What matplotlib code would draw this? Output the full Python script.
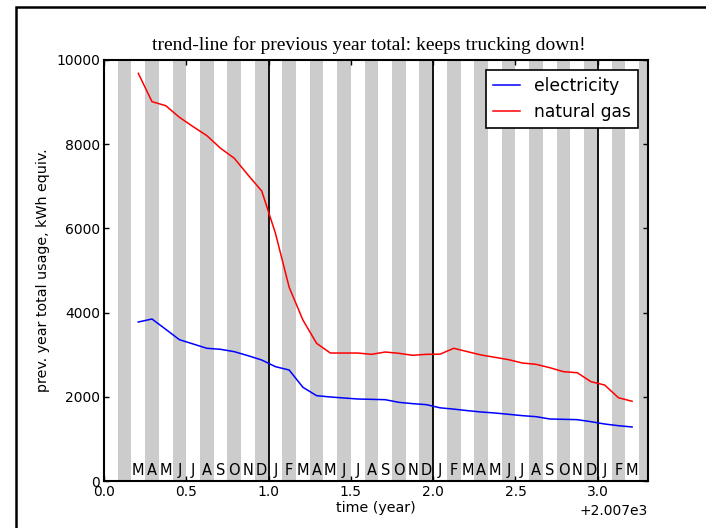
import matplotlib
matplotlib.use("Agg")
import matplotlib.pyplot as plt
from matplotlib.patches import Rectangle

# ---- data ----
year0 = 2007
month_labels = ["M", "A", "M", "J", "J", "A", "S", "O", "N", "D", "J", "F",
                "M", "A", "M", "J", "J", "A", "S", "O", "N", "D", "J", "F",
                "M", "A", "M", "J", "J", "A", "S", "O", "N", "D", "J", "F", "M"]
first_month_index = 2  # March of first year (0 = January)

electricity = [3777, 3848, 3604, 3357, 3255, 3153, 3129, 3073, 2978, 2875,
               2717, 2638, 2228, 2029, 1998, 1974, 1950, 1942, 1934, 1871,
               1840, 1816, 1741, 1710, 1674, 1642, 1618, 1587, 1555, 1531,
               1476, 1468, 1460, 1412, 1357, 1317, 1286]
natural_gas = [9677, 9004, 8909, 8633, 8411, 8198, 7898, 7661, 7265, 6885,
               5881, 4600, 3825, 3271, 3041, 3041, 3041, 3010, 3065, 3034,
               2987, 3010, 3014, 3153, 3073, 2994, 2939, 2883, 2804, 2773,
               2693, 2598, 2574, 2361, 2282, 1981, 1896]
year_lines = [1, 2, 3]
title = "trend-line for previous year total: keeps trucking down!"

# ---- figure ----
fig = plt.figure(figsize=(7.06, 5.28), dpi=100)
ax = fig.add_axes([104 / 706, 1 - 481.2 / 528, 544 / 706, 421.5 / 528])

n = len(month_labels)
x = [year0 + (first_month_index + i + 0.5) / 12.0 for i in range(n)]

# shaded alternate months
for m in range(1, 40, 2):
    ax.axvspan(year0 + m / 12.0, year0 + (m + 1) / 12.0, color="#cccccc", lw=0, zorder=0)

for yl in year_lines:
    ax.axvline(year0 + yl, color="black", lw=1.3, zorder=1)

ax.plot(x, electricity, color="blue", lw=1.1, label="electricity", zorder=3)
ax.plot(x, natural_gas, color="red", lw=1.1, label="natural gas", zorder=3)

for xi, lab in zip(x, month_labels):
    ax.text(xi, 150, lab, ha="center", va="baseline", fontsize=10.5, zorder=4)

ax.set_xlim(year0, year0 + 3.305)
ax.set_ylim(0, 10000)
ax.set_xticks([year0 + v for v in [0, 0.5, 1.0, 1.5, 2.0, 2.5, 3.0]])
ax.set_yticks(range(0, 10001, 2000))
ax.ticklabel_format(axis="x", useOffset=year0)
ax.tick_params(direction="in", top=True, right=True, length=3.5, width=1,
               labelsize=10, pad=3)
for s in ax.spines.values():
    s.set_linewidth(1.5)

ax.set_xlabel("time (year)", fontsize=10.3, labelpad=1)
ax.set_ylabel("prev. year total usage, kWh equiv.", fontsize=10.3, labelpad=4)
ax.xaxis.get_offset_text().set_fontsize(10)

fig.text(368.5 / 706, 1 - 50 / 528, title, ha="center", va="baseline",
         family="Liberation Serif", fontsize=14)

leg = ax.legend(loc="upper right", fontsize=12.3, fancybox=False, framealpha=1,
                edgecolor="black", handlelength=1.6, borderaxespad=0.6)
leg.get_frame().set_linewidth(1.2)

# figure border (left and top visible)
fig.patches.append(Rectangle((16 / 706, -0.1), 1.2, 1.1 - 7 / 528,
                             transform=fig.transFigure, fill=False,
                             edgecolor="black", lw=1.8))

fig.savefig("out.png", dpi=100)
